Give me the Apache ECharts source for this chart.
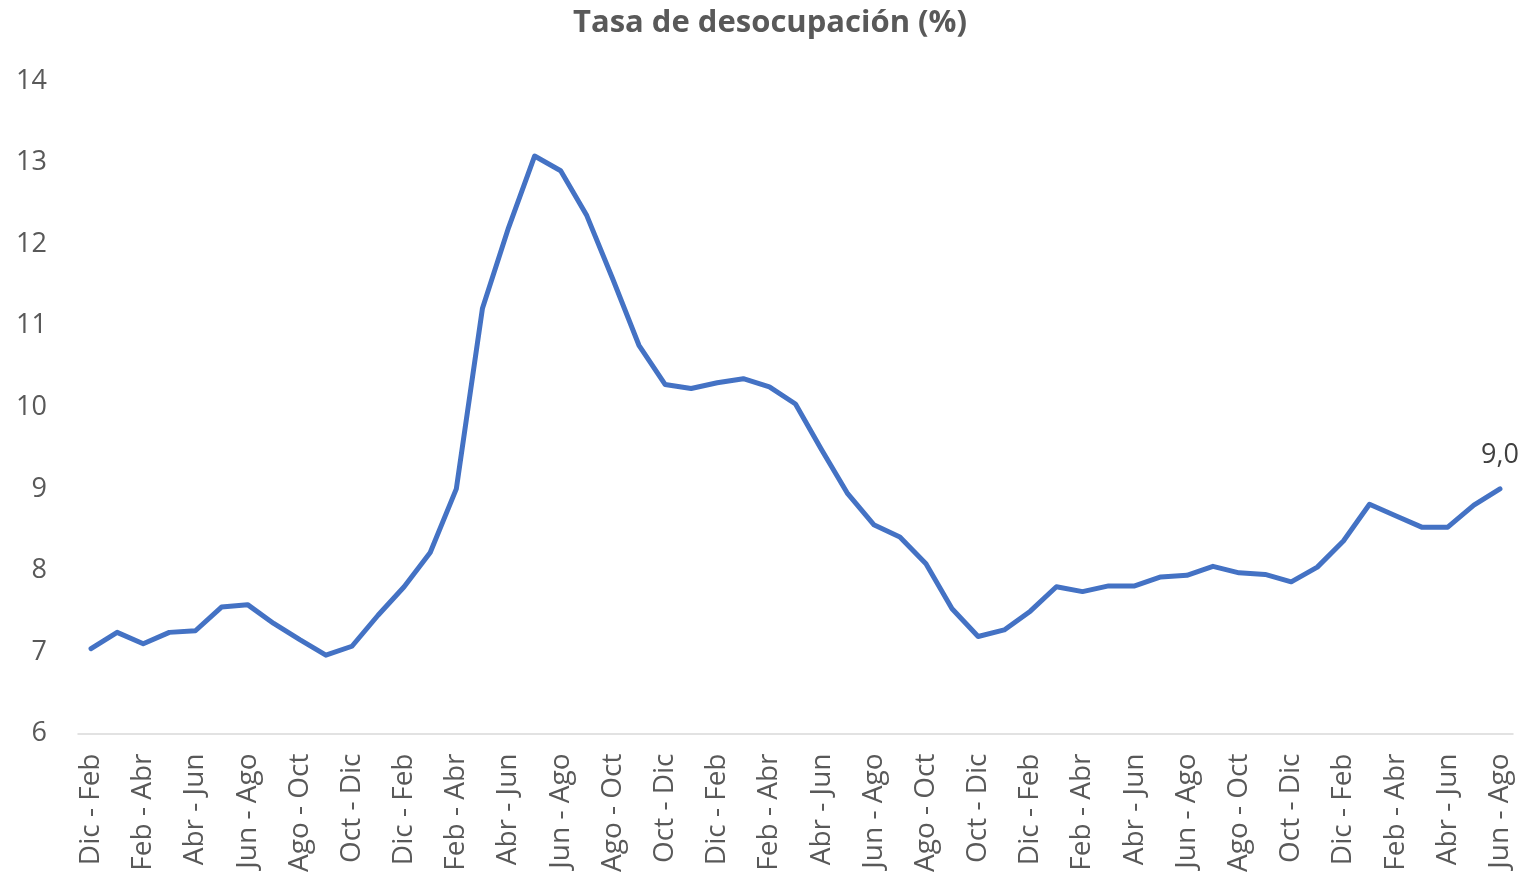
<!DOCTYPE html>
<html>
<head>
<meta charset="utf-8">
<script src="https://cdn.jsdelivr.net/npm/echarts@6/dist/echarts.min.js"></script>
<style>
html,body{margin:0;padding:0;background:#fff;}
#chart{width:1521px;height:875px;}
</style>
</head>
<body>
<div id="chart"></div>
<script>
const titleText = 'Tasa de desocupación (%)';
const categories = [
  'Dic - Feb','Ene - Mar','Feb - Abr','Mar - May','Abr - Jun','May - Jul','Jun - Ago','Jul - Sep','Ago - Oct','Sep - Nov','Oct - Dic','Nov - Ene',
  'Dic - Feb','Ene - Mar','Feb - Abr','Mar - May','Abr - Jun','May - Jul','Jun - Ago','Jul - Sep','Ago - Oct','Sep - Nov','Oct - Dic','Nov - Ene',
  'Dic - Feb','Ene - Mar','Feb - Abr','Mar - May','Abr - Jun','May - Jul','Jun - Ago','Jul - Sep','Ago - Oct','Sep - Nov','Oct - Dic','Nov - Ene',
  'Dic - Feb','Ene - Mar','Feb - Abr','Mar - May','Abr - Jun','May - Jul','Jun - Ago','Jul - Sep','Ago - Oct','Sep - Nov','Oct - Dic','Nov - Ene',
  'Dic - Feb','Ene - Mar','Feb - Abr','Mar - May','Abr - Jun','May - Jul','Jun - Ago'
];
const rateValues = [
  7.04, 7.24, 7.10, 7.24, 7.26, 7.55, 7.58, 7.35, 7.15, 6.96, 7.07, 7.45,
  7.80, 8.22, 9.00, 11.21, 12.20, 13.08, 12.90, 12.35, 11.57, 10.76, 10.28, 10.23,
  10.30, 10.35, 10.25, 10.04, 9.48, 8.94, 8.56, 8.41, 8.08, 7.53, 7.19, 7.27,
  7.50, 7.80, 7.74, 7.81, 7.81, 7.92, 7.94, 8.05, 7.97, 7.95, 7.86, 8.04,
  8.36, 8.81, 8.67, 8.53, 8.53, 8.80, 9.00
];
const yTicks = { min: 6, max: 14, step: 1 };

const lastIdx = rateValues.length - 1;

const chart = echarts.init(document.getElementById('chart'), null, {renderer: 'canvas'});
chart.setOption({
  animation: false,
  backgroundColor: '#ffffff',
  title: {
    text: titleText,
    left: 568,
    top: 3,
    textStyle: { color: '#595959', fontSize: 31, fontWeight: 'bold', fontFamily: 'Open Sans' }
  },
  grid: { left: 78, right: 8, top: 81, bottom: 140, containLabel: false },
  xAxis: {
    type: 'category',
    data: categories,
    boundaryGap: true,
    axisLine: { show: true, lineStyle: { color: '#d9d9d9', width: 1.5 } },
    axisTick: { show: false },
    axisLabel: {
      interval: 1, rotate: 90, margin: 20,
      color: '#595959', fontSize: 28, fontFamily: 'Open Sans'
    },
    splitLine: { show: false }
  },
  yAxis: {
    type: 'value',
    min: yTicks.min, max: yTicks.max, interval: yTicks.step,
    axisLine: { show: false },
    axisTick: { show: false },
    splitLine: { show: false },
    axisLabel: { margin: 31, color: '#595959', fontSize: 27, fontFamily: 'Open Sans' }
  },
  series: [{
    type: 'line',
    data: rateValues,
    showSymbol: false,
    symbol: 'none',
    lineStyle: { color: '#4472C4', width: 5, join: 'round', cap: 'round' },
    itemStyle: { color: '#4472C4' },
    markPoint: {
      symbol: 'circle',
      symbolSize: 1,
      itemStyle: { color: 'rgba(0,0,0,0)' },
      data: [{ coord: [lastIdx, rateValues[lastIdx]], value: rateValues[lastIdx] }],
      label: {
        show: true, position: 'top', distance: 20,
        formatter: p => Number(p.value).toFixed(1).replace('.', ','),
        color: '#404040', fontSize: 27, fontFamily: 'Open Sans'
      }
    }
  }]
});
</script>
</body>
</html>
